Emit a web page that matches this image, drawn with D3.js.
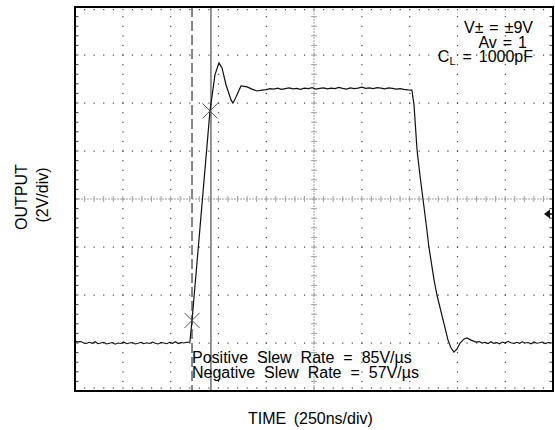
<!DOCTYPE html>
<html>
<head>
<meta charset="utf-8">
<script src="https://cdn.jsdelivr.net/npm/d3@7"></script>
<style>
  body { margin: 0; background: #fff; }
  svg { font-family: "Liberation Sans", Arial, sans-serif; }
</style>
</head>
<body>
<div id="chart"></div>
<script>
// scope record, time in ns, output in volts (2V/div, 250ns/div)
const baseStart = 0, baseStep = 15;
const baseV = [-5.93,-5.95,-5.94,-6.00,-6.02,-5.97,-6.01,-5.95,-6.03,-6.00,-5.97,-6.04,-6.01,-5.98,-6.05,-6.00,
  -6.02,-5.96,-6.03,-6.00,-5.98,-6.04,-6.01,-5.97,-6.03,-5.99,-6.02,-5.96,-6.01,-6.04,-5.98,-6.00,-6.03,-5.97,
  -6.01,-5.95,-6.02,-5.98,-6.00,-5.97];

const riseT = [601, 612, 654, 706, 732, 753, 769, 790, 816, 826, 837, 842, 868, 900, 926, 952, 978];
const riseV = [-5.96, -5.06, -1.17, 3.67, 5.17, 5.67, 5.46, 4.75, 4.13, 4.0, 4.17, 4.25, 4.71, 4.67, 4.58, 4.50, 4.54];

const topStart = 1000, topStep = 20;
const topV = [4.56,4.60,4.58,4.62,4.57,4.60,4.63,4.59,4.61,4.57,4.62,4.60,4.64,4.58,4.61,4.63,4.59,4.62,4.60,
  4.65,4.61,4.58,4.63,4.60,4.62,4.66,4.61,4.63,4.60,4.64,4.62,4.59,4.63,4.61,4.58,4.60,4.57,4.55];

const fallT = [1762, 1773, 1789, 1804, 1820, 1836, 1851, 1878, 1893, 1925, 1951, 1967, 1982, 1998, 2014, 2035, 2050, 2071, 2097];
const fallV = [4.54, 3.92, 2.04, 1.0, 0, -1.0, -2.0, -3.38, -4.0, -5.04, -5.88, -6.21, -6.38, -6.25, -6.0, -5.83, -5.79, -5.88, -5.96];

const tailStart = 2115, tailStep = 15;
const tailV = [-5.94,-6.00,-5.97,-6.02,-5.95,-6.01,-5.98,-6.03,-5.96,-6.00,-5.93,-5.99,-6.02,-5.97,-6.01,-5.95,
  -6.00,-5.98,-6.03,-5.96,-6.01,-5.99,-5.96,-6.02,-5.98,-6.00];

const crossT = [612, 706];
const crossV = [-5.06, 3.67];
const cursorDashedT = 612;
const cursorSolidT = 711;
const triggerV = -0.625;

const notes = ["V\u00b1 = \u00b19V", "Av = 1"];
const slewLines = ["Positive Slew Rate = 85V/\u00b5s", "Negative Slew Rate = 57V/\u00b5s"];

const W = 555, H = 430;
const svg = d3.select("#chart").append("svg").attr("width", W).attr("height", H);

const x = d3.scaleLinear().domain([0, 2500]).range([75, 553]);
const y = d3.scaleLinear().domain([-8, 8]).range([391, 7]);

const majorX = d3.range(0, 2501, 250);
const minorX = d3.range(0, 2500.1, 50);
const majorY = d3.range(-8, 8.1, 2);
const minorY = d3.range(-8, 8.01, 0.4);

// build the trace
let trace = [];
baseV.forEach((v, i) => trace.push([baseStart + i * baseStep, v]));
riseT.forEach((t, i) => trace.push([t, riseV[i]]));
topV.forEach((v, i) => trace.push([topStart + i * topStep, v]));
fallT.forEach((t, i) => trace.push([t, fallV[i]]));
tailV.forEach((v, i) => trace.push([tailStart + i * tailStep, v]));

const grid = svg.append("g");
const dotColor = "#444";

// dotted graticule
majorX.filter(t => t > 0 && t < 2500 && t !== 1250).forEach(t => {
  grid.selectAll(null).data(minorY.filter(v => v > -8 && v < 8)).enter().append("rect")
    .attr("x", x(t) - 0.5).attr("y", d => y(d) - 0.5).attr("width", 1.2).attr("height", 1.2)
    .attr("fill", dotColor);
});
majorY.filter(v => v > -8 && v < 8 && v !== 0).forEach(v => {
  grid.selectAll(null).data(minorX.filter(t => t > 0 && t < 2500)).enter().append("rect")
    .attr("x", d => x(d) - 0.5).attr("y", y(v) - 0.5).attr("width", 1.2).attr("height", 1.2)
    .attr("fill", dotColor);
});
// dots just inside top and bottom border
[y(8) + 2.5, y(-8) - 3].forEach(py => {
  grid.selectAll(null).data(minorX.filter(t => t > 0 && t < 2500)).enter().append("rect")
    .attr("x", d => x(d) - 0.5).attr("y", py - 0.5).attr("width", 1.2).attr("height", 1.2)
    .attr("fill", dotColor);
});
// ticks on left and right border
grid.selectAll(null).data(minorY.filter(v => v > -8 && v < 8)).enter().append("line")
  .attr("x1", x(0)).attr("x2", x(0) + 3.5).attr("y1", d => y(d)).attr("y2", d => y(d))
  .attr("stroke", "#444").attr("stroke-width", 1);
grid.selectAll(null).data(minorY.filter(v => v > -8 && v < 8)).enter().append("line")
  .attr("x1", x(2500) - 3.5).attr("x2", x(2500)).attr("y1", d => y(d)).attr("y2", d => y(d))
  .attr("stroke", "#444").attr("stroke-width", 1);

// center axes with minor ticks
const axColor = "#a0a0a0";
grid.append("line").attr("x1", x(0)).attr("x2", x(2500)).attr("y1", y(0)).attr("y2", y(0))
  .attr("stroke", axColor).attr("stroke-width", 1).attr("stroke-dasharray", "2,1");
grid.append("line").attr("x1", x(1250)).attr("x2", x(1250)).attr("y1", y(8)).attr("y2", y(-8))
  .attr("stroke", axColor).attr("stroke-width", 1).attr("stroke-dasharray", "2,1");
grid.selectAll(null).data(minorX.filter(t => t > 0 && t < 2500)).enter().append("line")
  .attr("x1", d => x(d)).attr("x2", d => x(d)).attr("y1", y(0) - 3).attr("y2", y(0) + 3)
  .attr("stroke", axColor).attr("stroke-width", 1);
grid.selectAll(null).data(minorY.filter(v => v > -8 && v < 8)).enter().append("line")
  .attr("x1", x(1250) - 3).attr("x2", x(1250) + 3).attr("y1", d => y(d)).attr("y2", d => y(d))
  .attr("stroke", axColor).attr("stroke-width", 1);

// cursors
svg.append("line").attr("x1", x(cursorDashedT)).attr("x2", x(cursorDashedT))
  .attr("y1", y(8)).attr("y2", y(-8))
  .attr("stroke", "#555").attr("stroke-width", 1.4).attr("stroke-dasharray", "10,4");
svg.append("line").attr("x1", x(cursorSolidT)).attr("x2", x(cursorSolidT))
  .attr("y1", y(8)).attr("y2", y(-8))
  .attr("stroke", "#666").attr("stroke-width", 1.4);

// waveform
svg.append("path").datum(trace)
  .attr("d", d3.line().x(d => x(d[0])).y(d => y(d[1])))
  .attr("fill", "none").attr("stroke", "#111").attr("stroke-width", 1.2);

// measurement crosses
crossT.forEach((t, i) => {
  const cx = x(t), cy = y(crossV[i]), r = 7.5;
  svg.append("path")
    .attr("d", `M${cx - r},${cy - r}L${cx + r},${cy + r}M${cx - r},${cy + r}L${cx + r},${cy - r}`)
    .attr("stroke", "#555").attr("stroke-width", 1);
});

// trigger level arrow
const ty = y(triggerV);
svg.append("path")
  .attr("d", `M${x(2500) - 9},${ty}L${x(2500) - 3},${ty - 4.5}L${x(2500) - 3},${ty + 4.5}Z`)
  .attr("fill", "#111");
svg.append("line").attr("x1", x(2500) - 4).attr("x2", x(2500)).attr("y1", ty).attr("y2", ty)
  .attr("stroke", "#111").attr("stroke-width", 1.5);

// frame
svg.append("rect").attr("x", x(0)).attr("y", y(8))
  .attr("width", x(2500) - x(0)).attr("height", y(-8) - y(8))
  .attr("fill", "none").attr("stroke", "#000").attr("stroke-width", 2);

// annotations
const fs = 16;
svg.append("text").attr("x", 533).attr("y", 33).attr("text-anchor", "end")
  .attr("font-size", fs).attr("word-spacing", 1.5).text(notes[0]);
svg.append("text").attr("x", 527).attr("y", 47.5).attr("text-anchor", "end")
  .attr("font-size", fs).attr("word-spacing", 1.5).text(notes[1]);
const cl = svg.append("text").attr("x", 533).attr("y", 62).attr("text-anchor", "end")
  .attr("font-size", fs).attr("word-spacing", 2.5);
cl.append("tspan").text("C");
cl.append("tspan").attr("font-size", 11).attr("dy", 3).text("L");
cl.append("tspan").attr("dy", -3).text(" = 1000pF");

slewLines.forEach((s, i) => {
  svg.append("text").attr("x", 192).attr("y", 363 + i * 15)
    .attr("font-size", fs).attr("word-spacing", 4.5).text(s);
});

// axis titles
svg.append("text").attr("transform", "translate(27,197) rotate(-90)")
  .attr("text-anchor", "middle").attr("font-size", fs).text("OUTPUT");
svg.append("text").attr("transform", "translate(48,195) rotate(-90)")
  .attr("text-anchor", "middle").attr("font-size", fs).text("(2V/div)");
svg.append("text").attr("x", 248).attr("y", 424)
  .attr("font-size", fs).attr("word-spacing", 3).text("TIME (250ns/div)");
</script>
</body>
</html>
